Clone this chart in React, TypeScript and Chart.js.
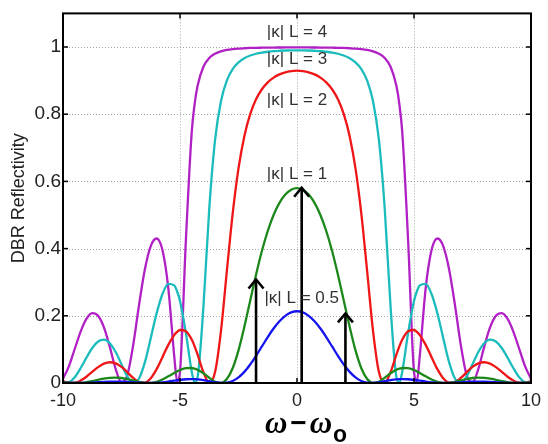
import React, { useEffect, useRef } from "react";
import { Chart, registerables } from "chart.js";

Chart.register(...registerables);

// detuning (omega - omega_o), normalized
const detuning = [-10,-9.75,-9.5,-9.25,-9,-8.75,-8.5,-8.25,-8,-7.75,-7.5,-7.25,-7,-6.75,-6.5,-6.25,-6,-5.75,-5.5,-5.25,-5.125,-5,-4.75,-4.5,-4.375,-4.25,-4,-3.75,-3.5,-3.25,-3,-2.75,-2.5,-2.25,-2,-1.75,-1.5,-1.25,-1,-0.75,-0.5,-0.25,0,0.25,0.5,0.75,1,1.25,1.5,1.75,2,2.25,2.5,2.75,3,3.25,3.5,3.75,4,4.25,4.375,4.5,4.75,5,5.125,5.25,5.5,5.75,6,6.25,6.5,6.75,7,7.25,7.5,7.75,8,8.25,8.5,8.75,9,9.25,9.5,9.75,10];

const reflKL05 = [0.0007,0.0002,0.0000,0.0001,0.0006,0.0013,0.0023,0.0032,0.0038,0.0041,0.0039,0.0032,0.0021,0.0010,0.0002,0.0000,0.0006,0.0021,0.0043,0.0069,0.0082,0.0093,0.0111,0.0117,0.0114,0.0108,0.0085,0.0053,0.0021,0.0001,0.0010,0.0061,0.0167,0.0331,0.0550,0.0808,0.1087,0.1365,0.1621,0.1837,0.2000,0.2101,
  0.2135,
  0.2101,0.2000,0.1837,0.1621,0.1365,0.1087,0.0808,0.0550,0.0331,0.0167,0.0061,0.0010,0.0001,0.0021,0.0053,0.0085,0.0108,0.0114,0.0117,0.0111,0.0093,0.0082,0.0069,0.0043,0.0021,0.0006,0.0000,0.0002,0.0010,0.0021,0.0032,0.0039,0.0041,0.0038,0.0032,0.0023,0.0013,0.0006,0.0001,0.0000,0.0002,0.0007];

const reflKL1 = [0.0025,0.0008,0.0000,0.0006,0.0027,0.0059,0.0096,0.0131,0.0155,0.0162,0.0149,0.0117,0.0075,0.0033,0.0005,0.0003,0.0037,0.0104,0.0198,0.0299,0.0346,0.0387,0.0441,0.0446,0.0427,0.0393,0.0289,0.0156,0.0039,0.0003,0.0117,0.0438,0.0971,0.1671,0.2451,0.3225,0.3928,0.4524,0.5000,0.5359,0.5607,0.5753,
  0.5800,
  0.5753,0.5607,0.5359,0.5000,0.4524,0.3928,0.3225,0.2451,0.1671,0.0971,0.0438,0.0117,0.0003,0.0039,0.0156,0.0289,0.0393,0.0427,0.0446,0.0441,0.0387,0.0346,0.0299,0.0198,0.0104,0.0037,0.0003,0.0005,0.0033,0.0075,0.0117,0.0149,0.0162,0.0155,0.0131,0.0096,0.0059,0.0027,0.0006,0.0000,0.0008,0.0025];

const reflKL2 = [0.0055,0.0006,0.0009,0.0072,0.0187,0.0331,0.0471,0.0575,0.0618,0.0585,0.0479,0.0320,0.0149,0.0026,0.0010,0.0141,0.0412,0.0770,0.1135,0.1426,0.1523,0.1577,0.1541,0.1294,0.1092,0.0850,0.0324,0.0004,0.0332,0.1547,0.3312,0.5035,0.6388,0.7347,0.8000,0.8442,0.8742,0.8949,0.9090,0.9186,0.9248,0.9282,
  0.9294,
  0.9282,0.9248,0.9186,0.9090,0.8949,0.8742,0.8442,0.8000,0.7347,0.6388,0.5035,0.3312,0.1547,0.0332,0.0004,0.0324,0.0850,0.1092,0.1294,0.1541,0.1577,0.1523,0.1426,0.1135,0.0770,0.0412,0.0141,0.0010,0.0026,0.0149,0.0320,0.0479,0.0585,0.0618,0.0575,0.0471,0.0331,0.0187,0.0072,0.0009,0.0006,0.0055];

const reflKL3 = [0.0013,0.0023,0.0174,0.0439,0.0753,0.1041,0.1235,0.1290,0.1184,0.0923,0.0558,0.0197,0.0004,0.0133,0.0620,0.1336,0.2071,0.2648,0.2953,0.2907,0.2730,0.2437,0.1497,0.0344,0.0016,0.0167,0.2254,0.5184,0.7240,0.8384,0.9000,0.9343,0.9544,0.9668,0.9747,0.9799,0.9835,0.9859,0.9877,0.9888,0.9896,0.9900,
  0.9901,
  0.9900,0.9896,0.9888,0.9877,0.9859,0.9835,0.9799,0.9747,0.9668,0.9544,0.9343,0.9000,0.8384,0.7240,0.5184,0.2254,0.0167,0.0016,0.0344,0.1497,0.2437,0.2730,0.2907,0.2953,0.2648,0.2071,0.1336,0.0620,0.0133,0.0004,0.0197,0.0558,0.0923,0.1184,0.1290,0.1235,0.1041,0.0753,0.0439,0.0174,0.0023,0.0013];

const reflKL4 = [0.0124,0.0497,0.1012,0.1524,0.1907,0.2081,0.2002,0.1654,0.1076,0.0420,0.0015,0.0235,0.1131,0.2327,0.3387,0.4076,0.4301,0.3956,0.2823,0.0831,0.0060,0.0342,0.4226,0.7454,0.8302,0.8840,0.9412,0.9671,0.9801,0.9871,0.9912,0.9937,0.9953,0.9963,0.9971,0.9976,0.9979,0.9982,0.9984,0.9985,0.9986,0.9986,
  0.9987,
  0.9986,0.9986,0.9985,0.9984,0.9982,0.9979,0.9976,0.9971,0.9963,0.9953,0.9937,0.9912,0.9871,0.9801,0.9671,0.9412,0.8840,0.8302,0.7454,0.4226,0.0342,0.0060,0.0831,0.2823,0.3956,0.4301,0.4076,0.3387,0.2327,0.1131,0.0235,0.0015,0.0420,0.1076,0.1654,0.2002,0.2081,0.1907,0.1524,0.1012,0.0497,0.0124];

const seriesNames = ["|κ| L = 0.5", "|κ| L = 1", "|κ| L = 2", "|κ| L = 3", "|κ| L = 4"];
const seriesColors = ["#1414ee", "#1c881c", "#ee1616", "#1cbcbc", "#b020c4"];

const xTicks = [-10, -5, 0, 5, 10];
const xTickLabels = ["-10", "-5", "0", "5", "10"];
const yTicks = [0, 0.2, 0.4, 0.6, 0.8, 1];
const yTickLabels = ["0", "0.2", "0.4", "0.6", "0.8", "1"];

const arrowX = [-1.75, 0.2, 2.07];
const arrowTop = [0.308, 0.581, 0.207];

const annotTexts = ["|κ| L = 4", "|κ| L = 3", "|κ| L = 2", "|κ| L = 1", "|κ| L = 0.5"];
const annotX = [0, 0, 0, 0, 0.2];
const annotY = [1.043, 0.964, 0.84, 0.621, 0.253];

const yTitle = "DBR Reflectivity";
const xTitleOmega = "ω";
const xTitleMinus = "−";
const xTitleSub = "o";

const decorPlugin = {
  id: "decor",
  beforeDatasetsDraw(chart: any) {
    const { ctx, chartArea: a, scales } = chart;
    const x = scales.x, y = scales.y;
    ctx.save();
    ctx.strokeStyle = "#a4a4a4";
    ctx.lineWidth = 1;
    ctx.setLineDash([1, 2]);
    for (const v of xTicks) {
      if (v <= x.min || v >= x.max) continue;
      const px = Math.round(x.getPixelForValue(v)) + 0.5;
      ctx.beginPath(); ctx.moveTo(px, a.top); ctx.lineTo(px, a.bottom); ctx.stroke();
    }
    for (const v of yTicks) {
      if (v <= y.min) continue;
      const py = Math.round(y.getPixelForValue(v)) + 0.5;
      ctx.beginPath(); ctx.moveTo(a.left, py); ctx.lineTo(a.right, py); ctx.stroke();
    }
    ctx.restore();
  },
  afterDatasetsDraw(chart: any) {
    const { ctx, chartArea: a, scales } = chart;
    const x = scales.x, y = scales.y;
    ctx.save();
    ctx.setLineDash([]);
    ctx.strokeStyle = "#000";
    ctx.lineWidth = 2;
    ctx.strokeRect(a.left, a.top, a.right - a.left, a.bottom - a.top);
    ctx.lineWidth = 1.5;
    const tl = 5;
    for (const v of xTicks) {
      const px = x.getPixelForValue(v);
      ctx.beginPath(); ctx.moveTo(px, a.bottom); ctx.lineTo(px, a.bottom - tl); ctx.stroke();
      ctx.beginPath(); ctx.moveTo(px, a.top); ctx.lineTo(px, a.top + tl); ctx.stroke();
    }
    for (const v of yTicks) {
      const py = y.getPixelForValue(v);
      ctx.beginPath(); ctx.moveTo(a.left, py); ctx.lineTo(a.left + tl, py); ctx.stroke();
      ctx.beginPath(); ctx.moveTo(a.right, py); ctx.lineTo(a.right - tl, py); ctx.stroke();
    }
    // arrows
    ctx.lineWidth = 2.6;
    ctx.lineJoin = "miter";
    arrowX.forEach((ax, i) => {
      const px = x.getPixelForValue(ax);
      const pTop = y.getPixelForValue(arrowTop[i]);
      const pBot = y.getPixelForValue(0);
      ctx.beginPath(); ctx.moveTo(px, pBot); ctx.lineTo(px, pTop + 1); ctx.stroke();
      ctx.beginPath(); ctx.moveTo(px - 7.5, pTop + 9); ctx.lineTo(px, pTop); ctx.lineTo(px + 7.5, pTop + 9); ctx.stroke();
    });
    // annotations
    ctx.fillStyle = "#333";
    ctx.font = '17px "Liberation Sans", Arial, sans-serif';
    ctx.textAlign = "center";
    ctx.textBaseline = "middle";
    annotTexts.forEach((t, i) => {
      ctx.fillText(t, x.getPixelForValue(annotX[i]), y.getPixelForValue(annotY[i]));
    });
    ctx.restore();

    // y title
    ctx.save();
    ctx.fillStyle = "#222";
    ctx.font = '18px "Liberation Sans", Arial, sans-serif';
    ctx.textAlign = "center";
    ctx.textBaseline = "middle";
    ctx.translate(19, (a.top + a.bottom) / 2);
    ctx.rotate(-Math.PI / 2);
    ctx.fillText(yTitle, 0, 0);
    ctx.restore();

    // x title: omega - omega_o
    ctx.save();
    ctx.fillStyle = "#000";
    ctx.textBaseline = "alphabetic";
    ctx.textAlign = "left";
    const omegaFont = 'italic bold 31px "Liberation Serif", "Times New Roman", serif';
    const minusFont = 'bold 28px "Liberation Sans", Arial, sans-serif';
    const subFont = 'bold 23px "Liberation Sans", Arial, sans-serif';
    ctx.font = omegaFont;
    const wO = ctx.measureText(xTitleOmega).width;
    ctx.font = minusFont;
    const wM = ctx.measureText(xTitleMinus).width;
    ctx.font = subFont;
    const wS = ctx.measureText(xTitleSub).width;
    const gap = 3;
    const total = wO + gap + wM + gap + wO + 1 + wS;
    let cx = 306 - total / 2;
    const base = 433;
    ctx.font = omegaFont;
    ctx.fillText(xTitleOmega, cx, base);
    cx += wO + gap;
    ctx.font = minusFont;
    ctx.fillText(xTitleMinus, cx, base - 1);
    cx += wM + gap;
    ctx.font = omegaFont;
    ctx.fillText(xTitleOmega, cx, base);
    cx += wO + 1;
    ctx.font = subFont;
    ctx.fillText(xTitleSub, cx, 442);
    ctx.restore();
  },
};

export default function App() {
  const canvasRef = useRef<HTMLCanvasElement | null>(null);

  useEffect(() => {
    const canvas = canvasRef.current;
    if (!canvas) return;
    const allSeries = [reflKL05, reflKL1, reflKL2, reflKL3, reflKL4];
    const datasets = allSeries.map((ys, i) => ({
      label: seriesNames[i],
      data: detuning.map((xv, j) => ({ x: xv, y: ys[j] })),
      borderColor: seriesColors[i],
      backgroundColor: seriesColors[i],
      borderWidth: 2.3,
      pointRadius: 0,
      fill: false,
      cubicInterpolationMode: "monotone" as const,
    }));
    const chart = new Chart(canvas, {
      type: "line",
      data: { datasets },
      options: {
        animation: false,
        responsive: false,
        devicePixelRatio: 1,
        layout: { padding: { top: 7, right: 9, left: 0, bottom: 0 } },
        plugins: { legend: { display: false }, tooltip: { enabled: false } },
        scales: {
          x: {
            type: "linear",
            min: -10,
            max: 10,
            grid: { display: false, drawTicks: false, tickLength: 0 },
            border: { display: false },
            afterFit: (s: any) => { s.height = 61; },
            afterBuildTicks: (s: any) => { s.ticks = xTicks.map((v) => ({ value: v })); },
            ticks: {
              padding: 7,
              color: "#222",
              font: { family: '"Liberation Sans", Arial, sans-serif', size: 18 },
              maxRotation: 0,
              autoSkip: false,
              callback: (_v: any, i: number) => xTickLabels[i],
            },
          },
          y: {
            type: "linear",
            min: 0,
            max: 1.1,
            grid: { display: false, drawTicks: false, tickLength: 0 },
            border: { display: false },
            afterFit: (s: any) => { s.width = 63; },
            afterBuildTicks: (s: any) => { s.ticks = yTicks.map((v) => ({ value: v })); },
            ticks: {
              padding: 2,
              color: "#222",
              font: { family: '"Liberation Sans", Arial, sans-serif', size: 19 },
              autoSkip: false,
              callback: (_v: any, i: number) => yTickLabels[i],
            },
          },
        },
      },
      plugins: [decorPlugin],
    });
    return () => chart.destroy();
  }, []);

  return (
    <div style={{ position: "absolute", left: 0, top: 0, width: 548, height: 444, background: "#fff" }}>
      <canvas ref={canvasRef} width={548} height={444} style={{ display: "block" }} />
    </div>
  );
}
